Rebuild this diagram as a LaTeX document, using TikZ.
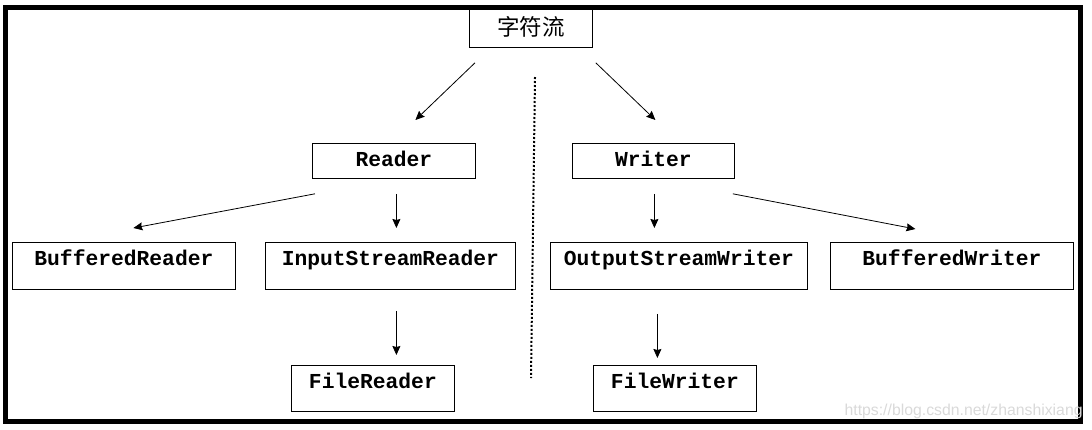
\documentclass[tikz,border=0pt]{standalone}
\usepackage{fontspec}
\newfontfamily\codefont{Liberation Mono}
\newfontfamily\cjk{Noto Sans CJK SC}
\newfontfamily\markfont{Liberation Sans}
\usetikzlibrary{arrows.meta}

\tikzset{
  cls/.style={draw, line width=0.8pt, anchor=north west, inner sep=0pt,
    font=\codefont\bfseries\fontsize{21.3}{24}\selectfont, text height=23.5pt},
}

\begin{document}
\begin{tikzpicture}[x=1pt, y=-1pt, -{Stealth[length=9pt,width=8pt,inset=1pt]}, line width=0.8pt]

\useasboundingbox (0,0) rectangle (1092,429);

% frame
\draw[-, line width=5pt] (5,7) rectangle (1080,421);

\node[draw, line width=0.8pt, anchor=north west, inner sep=0pt, minimum width=123pt,
  text height=28pt, text depth=12pt, font=\cjk\fontsize{22.5}{26}\selectfont] (top) at (469,7) {字符流};

\node[cls, minimum width=163pt, text depth=11.5pt] (reader) at (312,143) {Reader};
\node[cls, minimum width=162pt, text depth=11.5pt] (writer) at (572,143) {Writer};
\node[cls, minimum width=223pt, text depth=23.5pt] (buffr) at (12,242) {BufferedReader};
\node[cls, minimum width=250pt, text depth=23.5pt] (isr) at (265,242) {InputStreamReader};
\node[cls, minimum width=257pt, text depth=23.5pt] (osw) at (550,242) {OutputStreamWriter};
\node[cls, minimum width=243pt, text depth=23.5pt] (buffw) at (830,242) {BufferedWriter};
\node[cls, minimum width=163pt, text depth=22.5pt] (filer) at (291,365) {FileReader};
\node[cls, minimum width=163pt, text depth=22.5pt] (filew) at (593,365) {FileWriter};

\path	([shift={(6,15)}]top.south west) edge ([shift={(21.5,-23)}]reader.north)
	([shift={(3,15)}]top.south east) edge ([shift={(2,-23)}]writer.north)
	([shift={(3,15)}]reader.south west) edge ([shift={(9.5,-14)}]buffr.north)
	([shift={(2.5,15)}]reader.south) edge ([shift={(6,-14)}]isr.north)
	([shift={(1,15)}]writer.south) edge ([shift={(-24.5,-14)}]osw.north)
	([shift={(-2,15)}]writer.south east) edge ([shift={(-36.5,-13)}]buffw.north)
	([shift={(6,21)}]isr.south) edge ([shift={(23.5,-10)}]filer.north)
	([shift={(-21.5,24)}]osw.south) edge ([shift={(-17.5,-7)}]filew.north)
	;

% divider
\coordinate (divtop) at (535,77);
\coordinate (divbot) at (531,378);
\draw[-, line width=2pt, dash pattern=on 2pt off 2pt] (divtop) -- (divbot);

\node[anchor=base east, inner sep=0pt, text=black!15, font=\markfont\fontsize{15.8}{18}\selectfont] (mark) at (1083,415) {https://blog.csdn.net/zhanshixiang};

\end{tikzpicture}
\end{document}
